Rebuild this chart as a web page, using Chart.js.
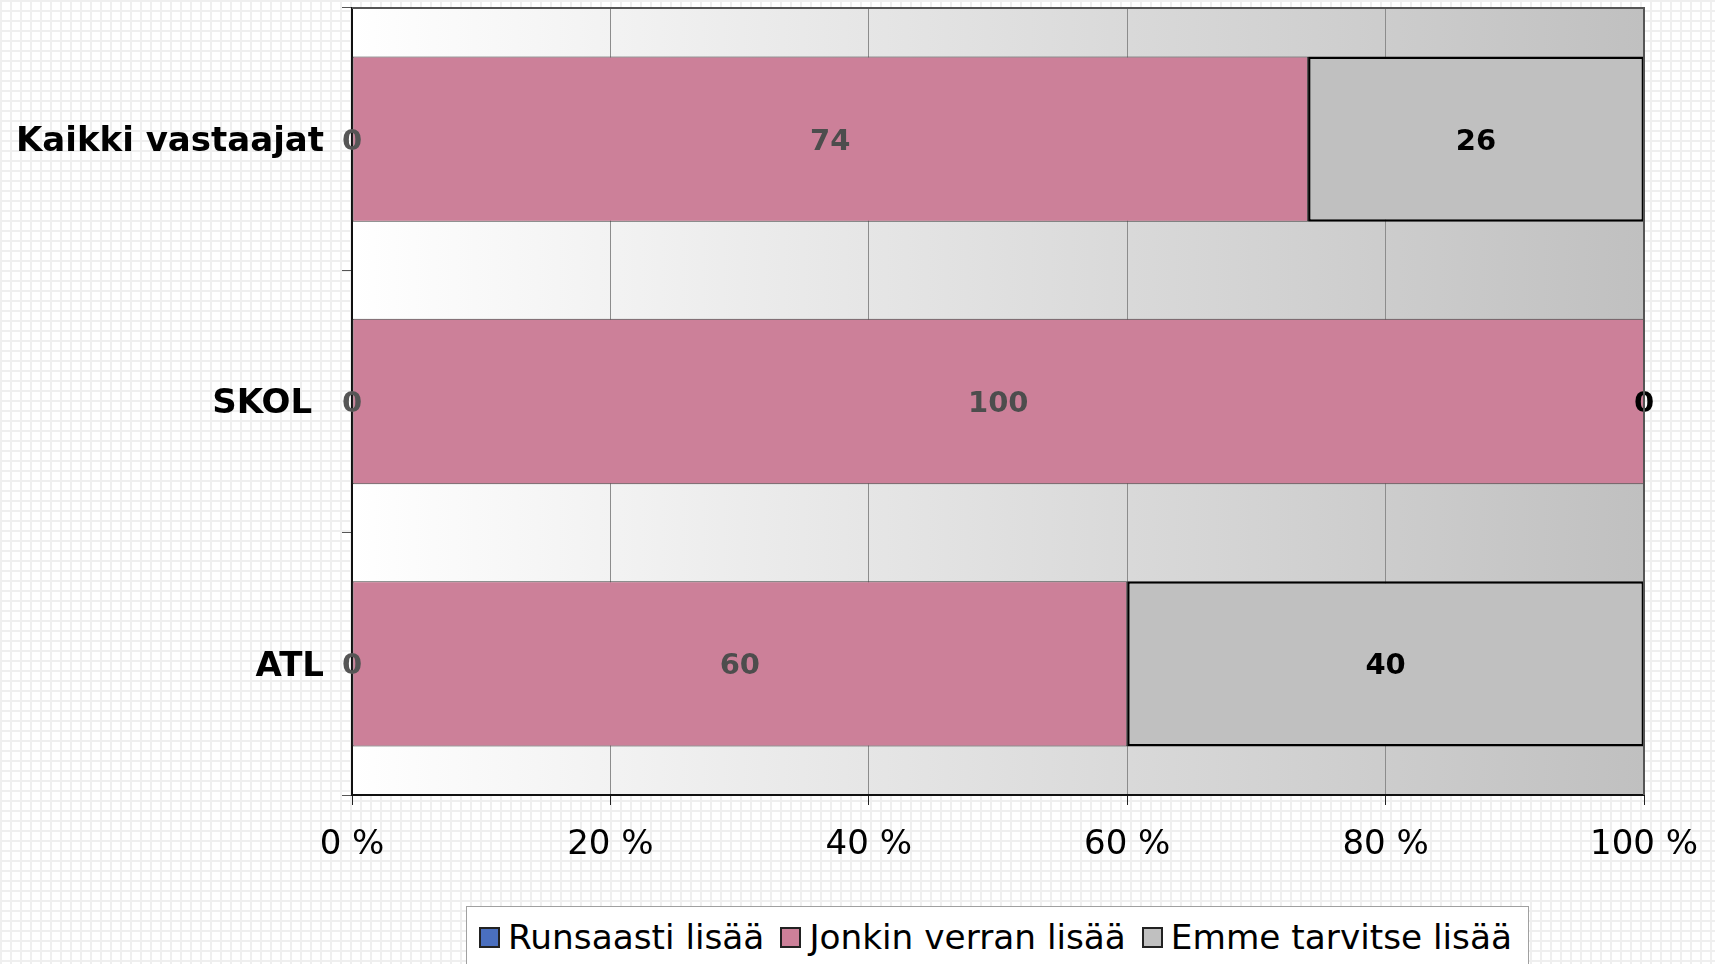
<!DOCTYPE html>
<html>
<head>
<meta charset="utf-8">
<script src="https://cdn.jsdelivr.net/npm/chart.js@4.4.1/dist/chart.umd.min.js"></script>
<style>
    html, body {
        margin: 0;
        padding: 0;
        overflow: hidden;
        width: 1715px;
        height: 964px;
        background-color: #ffffff;
        background-image:
            linear-gradient(#efefef 2px, transparent 2px),
            linear-gradient(90deg, #efefef 2px, transparent 2px);
        background-size: 10px 10px;
        font-family: 'DejaVu Sans', sans-serif;
    }
    #chart { position: absolute; left: 0; top: 0; }
    #legend {
        position: absolute;
        left: 466px;
        top: 906px;
        width: 1063px;
        height: 62px;
        box-sizing: border-box;
        border: 1.5px solid #a0a0a0;
        background: #ffffff;
        display: flex;
        align-items: center;
        padding-left: 12px;
        font-size: 34.3px;
        color: #000;
        white-space: nowrap;
    }
    .item { display: flex; align-items: center; margin-right: 16px; }
    .swatch {
        width: 21px;
        height: 21px;
        box-sizing: border-box;
        border: 2px solid #222;
        margin-right: 8px;
    }
</style>
</head>
<body>
<canvas id="chart" width="1715" height="964"></canvas>
<div id="legend"></div>
<script>
// values (percent)
const categories = ['Kaikki vastaajat', 'SKOL ', 'ATL'];
const seriesNames = ['Runsaasti lisää', 'Jonkin verran lisää', 'Emme tarvitse lisää'];
const runsaasti = [0, 0, 0];
const jonkin = [74, 100, 60];
const emme = [26, 0, 40];
const xTicks = [0, 20, 40, 60, 80, 100];

const seriesColors = ['#4a6fbf', '#cc8099', '#c0c0c0'];
const labelColors = ['#555555', '#4d4d4d', '#000000'];

const FONT = "'DejaVu Sans', sans-serif";

// plot background gradient + frame
const plotFrame = {
    id: 'plotFrame',
    beforeDraw(chart) {
        const a = chart.chartArea;
        const ctx = chart.ctx;
        const g = ctx.createLinearGradient(a.left, 0, a.right, 0);
        g.addColorStop(0, '#ffffff');
        g.addColorStop(1, '#c0c0c0');
        ctx.save();
        ctx.fillStyle = g;
        ctx.fillRect(a.left, a.top, a.right - a.left, a.bottom - a.top);
        ctx.restore();
    },
    afterDraw(chart) {
        const a = chart.chartArea;
        const ctx = chart.ctx;
        ctx.save();
        ctx.strokeStyle = '#555555';
        ctx.lineWidth = 2;
        ctx.beginPath();
        ctx.moveTo(a.left, a.top);
        ctx.lineTo(a.right, a.top);
        ctx.lineTo(a.right, a.bottom);
        ctx.stroke();
        ctx.restore();
    }
};

// value labels in the middle of each segment
const barLabels = {
    id: 'barLabels',
    afterDatasetsDraw(chart) {
        const ctx = chart.ctx;
        ctx.save();
        ctx.font = 'bold 29px ' + FONT;
        ctx.textAlign = 'center';
        ctx.textBaseline = 'middle';
        chart.data.datasets.forEach((ds, i) => {
            const meta = chart.getDatasetMeta(i);
            ctx.fillStyle = labelColors[i];
            meta.data.forEach((bar, j) => {
                const p = bar.getProps(['x', 'y', 'base'], true);
                ctx.fillText(ds.data[j], (p.x + p.base) / 2, p.y + 3);
            });
        });
        ctx.restore();
    }
};

const datasets = [runsaasti, jonkin, emme].map((d, i) => ({
    label: seriesNames[i],
    data: d,
    backgroundColor: seriesColors[i],
    borderColor: i === 2 ? '#000000' : '#404040',
    borderWidth: i === 2 ? 2.5 : 1,
    borderSkipped: false,
    barPercentage: 1,
    categoryPercentage: 0.63
}));

new Chart(document.getElementById('chart'), {
    type: 'bar',
    data: { labels: categories, datasets: datasets },
    options: {
        responsive: false,
        animation: false,
        indexAxis: 'y',
        layout: { padding: { top: 8, right: 71, left: 0, bottom: 0 } },
        plugins: {
            legend: { display: false },
            tooltip: { enabled: false }
        },
        scales: {
            x: {
                stacked: true,
                min: 0,
                max: 100,
                afterBuildTicks(scale) { scale.ticks = xTicks.map(v => ({ value: v })); },
                afterFit(scale) {
                    scale.height = 169;
                    scale.paddingLeft = 0;
                    scale.paddingRight = 0;
                },
                ticks: {
                    callback: v => v + ' %',
                    color: '#000',
                    font: { family: FONT, size: 34 },
                    padding: 20,
                    maxRotation: 0
                },
                grid: { color: '#8c8c8c', lineWidth: 1, tickLength: 10, tickColor: '#222' },
                border: { color: '#111', width: 2 }
            },
            y: {
                stacked: true,
                afterFit(scale) {
                    scale.width = 352;
                    scale.paddingTop = 0;
                    scale.paddingBottom = 0;
                },
                ticks: {
                    color: '#000',
                    font: { family: FONT, size: 34, weight: 'bold' },
                    padding: 18,
                    labelOffset: 3
                },
                grid: { offset: true, drawOnChartArea: false, tickLength: 10, tickColor: '#555' },
                border: { color: '#111', width: 2 }
            }
        }
    },
    plugins: [plotFrame, barLabels]
});

// legend as html
const legend = document.getElementById('legend');
seriesNames.forEach((name, i) => {
    const item = document.createElement('div');
    item.className = 'item';
    const sw = document.createElement('span');
    sw.className = 'swatch';
    sw.style.background = seriesColors[i];
    item.appendChild(sw);
    item.appendChild(document.createTextNode(name));
    legend.appendChild(item);
});
</script>
</body>
</html>
